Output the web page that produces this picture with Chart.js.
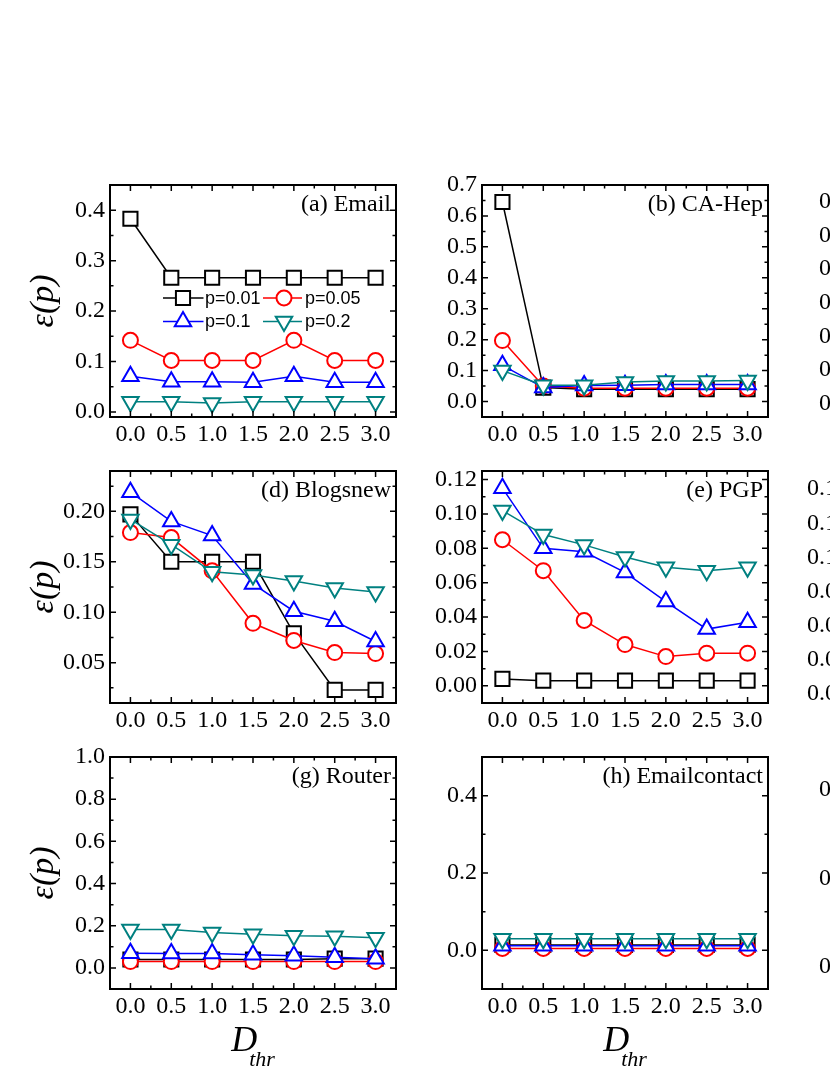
<!DOCTYPE html>
<html>
<head>
<meta charset="utf-8">
<title>epsilon(p) vs D_thr</title>
<script src="https://cdn.jsdelivr.net/npm/chart.js@4.4.1/dist/chart.umd.min.js"></script>
<style>
  html, body { margin: 0; padding: 0; background: #fff; overflow: hidden; }
  body { width: 830px; height: 1075px; position: relative; }
  canvas { position: absolute; }
</style>
</head>
<body>
<script>
// x axis: D_thr values and tick labels
const dthr = [0.0, 0.5, 1.0, 1.5, 2.0, 2.5, 3.0];
const xTicks = [0.0, 0.5, 1.0, 1.5, 2.0, 2.5, 3.0];
const seriesLabels = ['p=0.01', 'p=0.05', 'p=0.1', 'p=0.2'];

// (a) Email
const emailP001 = [0.383, 0.266, 0.266, 0.266, 0.266, 0.266, 0.266];
const emailP005 = [0.142, 0.102, 0.102, 0.102, 0.142, 0.102, 0.102];
const emailP01  = [0.071, 0.060, 0.060, 0.059, 0.071, 0.059, 0.059];
const emailP02  = [0.020, 0.020, 0.018, 0.020, 0.020, 0.020, 0.020];
const aTicks = [0.0, 0.1, 0.2, 0.3, 0.4];

// (b) CA-Hep
const caP001 = [0.645, 0.045, 0.040, 0.040, 0.040, 0.040, 0.040];
const caP005 = [0.197, 0.050, 0.043, 0.043, 0.043, 0.043, 0.043];
const caP01  = [0.117, 0.045, 0.052, 0.053, 0.055, 0.055, 0.055];
const caP02  = [0.100, 0.053, 0.053, 0.063, 0.066, 0.066, 0.068];
const bTicks = [0.0, 0.1, 0.2, 0.3, 0.4, 0.5, 0.6, 0.7];

// (d) Blogsnew
const blogP001 = [0.197, 0.150, 0.150, 0.150, 0.079, 0.023, 0.023];
const blogP005 = [0.179, 0.174, 0.141, 0.089, 0.072, 0.060, 0.059];
const blogP01  = [0.219, 0.190, 0.176, 0.128, 0.101, 0.091, 0.071];
const blogP02  = [0.192, 0.167, 0.140, 0.137, 0.131, 0.124, 0.120];
const dTicks = [0.05, 0.10, 0.15, 0.20];

// (e) PGP
const pgpP001 = [0.004, 0.003, 0.003, 0.003, 0.003, 0.003, 0.003];
const pgpP005 = [0.085, 0.067, 0.038, 0.024, 0.017, 0.019, 0.019];
const pgpP01  = [0.115, 0.080, 0.078, 0.066, 0.049, 0.033, 0.037];
const pgpP02  = [0.102, 0.088, 0.082, 0.075, 0.069, 0.067, 0.069];
const eTicks = [0.00, 0.02, 0.04, 0.06, 0.08, 0.10, 0.12];

// (g) Router
const routerP001 = [0.040, 0.040, 0.040, 0.040, 0.040, 0.044, 0.044];
const routerP005 = [0.030, 0.030, 0.030, 0.030, 0.030, 0.030, 0.030];
const routerP01  = [0.070, 0.068, 0.068, 0.062, 0.058, 0.050, 0.043];
const routerP02  = [0.182, 0.182, 0.168, 0.160, 0.152, 0.150, 0.143];
const gTicks = [0.0, 0.2, 0.4, 0.6, 0.8, 1.0];

// (h) Emailcontact
const ecP001 = [0.014, 0.014, 0.014, 0.014, 0.014, 0.014, 0.014];
const ecP005 = [0.005, 0.005, 0.005, 0.005, 0.005, 0.005, 0.005];
const ecP01  = [0.012, 0.012, 0.012, 0.012, 0.012, 0.012, 0.012];
const ecP02  = [0.030, 0.030, 0.030, 0.030, 0.030, 0.030, 0.030];
const hTicks = [0.0, 0.2, 0.4];

// third column is cut off by the page edge, only its tick labels peek in
const cTicks = [0.0, 0.1, 0.2, 0.3, 0.4, 0.5, 0.6];
const fTicks = [0.00, 0.03, 0.06, 0.09, 0.12, 0.15, 0.18];
const iTicks = [0.0, 0.2, 0.4];

// look of each series
const seriesStyle = [
	{ color: '#000000', pointStyle: 'rect', radius: 10, rotation: 0 },
	{ color: '#ff0000', pointStyle: 'circle', radius: 7.5, rotation: 0 },
	{ color: '#0000ff', pointStyle: 'triangle', radius: 9.5, rotation: 0 },
	{ color: '#008080', pointStyle: 'triangle', radius: 9.5, rotation: 180 }
];

const serif = "'Liberation Serif', 'Times New Roman', serif";
const sans = "'Liberation Sans', Arial, sans-serif";

// frame positions on the page
const colLeft = [110, 482, 853.5];
const rowTop = [184.5, 471, 756.5];
const frameW = 286;
const frameH = 232;
const padTop = 20, padRight = 12, yAxisW = 100;

const panels = [
	{ row: 0, col: 0, title: '(a) Email', series: [emailP001, emailP005, emailP01, emailP02], yMin: -0.01, yMax: 0.45, yTicks: aTicks, digits: 1, legend: true },
	{ row: 0, col: 1, title: '(b) CA-Hep', series: [caP001, caP005, caP01, caP02], yMin: -0.05, yMax: 0.7, yTicks: bTicks, digits: 1 },
	{ row: 0, col: 2, title: '', series: [], yMin: -0.04, yMax: 0.65, yTicks: cTicks, digits: 1 },
	{ row: 1, col: 0, title: '(d) Blogsnew', series: [blogP001, blogP005, blogP01, blogP02], yMin: 0.01, yMax: 0.24, yTicks: dTicks, digits: 2 },
	{ row: 1, col: 1, title: '(e) PGP', series: [pgpP001, pgpP005, pgpP01, pgpP02], yMin: -0.01, yMax: 0.125, yTicks: eTicks, digits: 2 },
	{ row: 1, col: 2, title: '', series: [], yMin: -0.008, yMax: 0.196, yTicks: fTicks, digits: 2 },
	{ row: 2, col: 0, title: '(g) Router', series: [routerP001, routerP005, routerP01, routerP02], yMin: -0.1, yMax: 1.0, yTicks: gTicks, digits: 1 },
	{ row: 2, col: 1, title: '(h) Emailcontact', series: [ecP001, ecP005, ecP01, ecP02], yMin: -0.1, yMax: 0.5, yTicks: hTicks, digits: 1 },
	{ row: 2, col: 2, title: '', series: [], yMin: -0.05, yMax: 0.475, yTicks: iTicks, digits: 1 }
];

function minorTicks(major, min, max) {
	const step = major[1] - major[0];
	const out = [];
	for (let v = major[0] - step / 2; v > min + 1e-9; v -= step) out.push(v);
	for (let i = 0; i < major.length - 1; i++) out.push((major[i] + major[i + 1]) / 2);
	for (let v = major[major.length - 1] + step / 2; v < max - 1e-9; v += step) out.push(v);
	return out;
}

function drawMarker(ctx, st, x, y) {
	ctx.save();
	ctx.fillStyle = '#fff';
	ctx.strokeStyle = st.color;
	ctx.lineWidth = 2;
	if (Chart.helpers && Chart.helpers.drawPoint) {
		Chart.helpers.drawPoint(ctx, { pointStyle: st.pointStyle, radius: st.radius, rotation: st.rotation, borderWidth: 2 }, x, y);
	} else {
		ctx.beginPath();
		ctx.arc(x, y, st.radius, 0, Math.PI * 2);
		ctx.fill();
		ctx.stroke();
	}
	ctx.restore();
}

// frame, inward ticks, panel label, axis titles, legend
const frameDecor = {
	id: 'frameDecor',
	afterDatasetsDraw(chart, args, opts) {
		const ctx = chart.ctx;
		const a = chart.chartArea;
		const xs = chart.scales.x, ys = chart.scales.y;
		ctx.save();
		ctx.strokeStyle = '#000';
		ctx.lineWidth = 2;
		ctx.strokeRect(a.left, a.top, a.right - a.left, a.bottom - a.top);

		ctx.lineWidth = 1.5;
		ctx.beginPath();
		const xMinor = minorTicks(xTicks, xs.min, xs.max);
		xTicks.forEach(v => { const px = xs.getPixelForValue(v); ctx.moveTo(px, a.bottom); ctx.lineTo(px, a.bottom - 6); ctx.moveTo(px, a.top); ctx.lineTo(px, a.top + 6); });
		xMinor.forEach(v => { const px = xs.getPixelForValue(v); ctx.moveTo(px, a.bottom); ctx.lineTo(px, a.bottom - 3.5); ctx.moveTo(px, a.top); ctx.lineTo(px, a.top + 3.5); });
		const yMinor = minorTicks(opts.yTicks, ys.min, ys.max);
		opts.yTicks.forEach(v => { const py = ys.getPixelForValue(v); ctx.moveTo(a.left, py); ctx.lineTo(a.left + 6, py); ctx.moveTo(a.right, py); ctx.lineTo(a.right - 6, py); });
		yMinor.forEach(v => { const py = ys.getPixelForValue(v); ctx.moveTo(a.left, py); ctx.lineTo(a.left + 3.5, py); ctx.moveTo(a.right, py); ctx.lineTo(a.right - 3.5, py); });
		ctx.stroke();

		ctx.fillStyle = '#000';
		if (opts.title) {
			ctx.font = '24px ' + serif;
			ctx.textAlign = 'right';
			ctx.textBaseline = 'alphabetic';
			ctx.fillText(opts.title, a.right - 5, a.top + 26);
		}

		if (opts.yTitle) {
			ctx.save();
			ctx.translate(a.left - 66, (a.top + a.bottom) / 2);
			ctx.rotate(-Math.PI / 2);
			ctx.font = 'italic 34px ' + serif;
			ctx.textAlign = 'center';
			ctx.textBaseline = 'middle';
			ctx.fillText('ε(p)', 0, 0);
			ctx.restore();
		}

		if (opts.xTitle) {
			const cx = (a.left + a.right) / 2;
			ctx.textAlign = 'left';
			ctx.textBaseline = 'alphabetic';
			ctx.font = 'italic 36px ' + serif;
			const wD = ctx.measureText('D').width;
			ctx.font = 'italic 22px ' + serif;
			const wS = ctx.measureText('thr').width;
			const x0 = cx - (wD - 8 + wS) / 2;
			ctx.font = 'italic 36px ' + serif;
			ctx.fillText('D', x0, a.bottom + 62);
			ctx.font = 'italic 22px ' + serif;
			ctx.fillText('thr', x0 + wD - 8, a.bottom + 77);
		}

		if (opts.legend) {
			const rowsY = [a.top + 113, a.top + 136.5];
			const cols = [
				{ l0: 53, l1: 93.5, m: 73, t: 95 },
				{ l0: 153, l1: 192, m: 174, t: 195 }
			];
			chart.data.datasets.forEach((ds, i) => {
				const c = cols[i % 2];
				const y = rowsY[Math.floor(i / 2)];
				const st = seriesStyle[i];
				ctx.strokeStyle = st.color;
				ctx.lineWidth = 1.5;
				ctx.beginPath();
				ctx.moveTo(a.left + c.l0, y);
				ctx.lineTo(a.left + c.l1, y);
				ctx.stroke();
				drawMarker(ctx, st, a.left + c.m, y);
				ctx.fillStyle = '#000';
				ctx.font = '18px ' + sans;
				ctx.textAlign = 'left';
				ctx.textBaseline = 'middle';
				ctx.fillText(ds.label, a.left + c.t, y + 1);
			});
		}
		ctx.restore();
	}
};

panels.forEach(p => {
	const xH = p.row === 2 ? 100 : 45;
	const cv = document.createElement('canvas');
	cv.width = yAxisW + frameW + padRight;
	cv.height = padTop + frameH + xH;
	cv.style.left = (colLeft[p.col] - yAxisW) + 'px';
	cv.style.top = (rowTop[p.row] - padTop) + 'px';
	document.body.appendChild(cv);

	const datasets = p.series.map((vals, i) => {
		const st = seriesStyle[i];
		return {
			label: seriesLabels[i],
			data: dthr.map((x, k) => ({ x: x, y: vals[k] })),
			borderColor: st.color,
			backgroundColor: '#fff',
			borderWidth: 1.5,
			pointStyle: st.pointStyle,
			pointRadius: st.radius,
			pointRotation: st.rotation,
			pointBorderWidth: 2,
			pointBorderColor: st.color,
			pointBackgroundColor: '#fff',
			tension: 0,
			fill: false,
			order: 3 - i
		};
	});

	const tickFont = { family: serif, size: 24 };

	new Chart(cv.getContext('2d'), {
		type: 'line',
		data: { datasets: datasets },
		options: {
			responsive: false,
			animation: false,
			events: [],
			layout: { padding: { top: padTop, right: padRight, left: 0, bottom: 0 } },
			plugins: {
				legend: { display: false },
				tooltip: { enabled: false },
				frameDecor: {
					title: p.title,
					yTicks: p.yTicks,
					legend: !!p.legend,
					yTitle: p.col === 0,
					xTitle: p.row === 2 && p.col < 2
				}
			},
			scales: {
				x: {
					type: 'linear',
					min: -0.25,
					max: 3.25,
					grid: { display: false, drawTicks: false },
					border: { display: false },
					afterBuildTicks: s => { s.ticks = xTicks.map(v => ({ value: v })); },
					afterFit: s => { s.height = xH; },
					ticks: { font: tickFont, color: '#000', padding: 3, maxRotation: 0, autoSkip: false, callback: v => Number(v).toFixed(1) }
				},
				y: {
					type: 'linear',
					min: p.yMin,
					max: p.yMax,
					grid: { display: false, drawTicks: false },
					border: { display: false },
					afterBuildTicks: s => { s.ticks = p.yTicks.map(v => ({ value: v })); },
					afterFit: s => { s.width = yAxisW; },
					ticks: { font: tickFont, color: '#000', padding: 5, autoSkip: false, callback: v => Number(v).toFixed(p.digits) }
				}
			}
		},
		plugins: [frameDecor]
	});
});
</script>
</body>
</html>
